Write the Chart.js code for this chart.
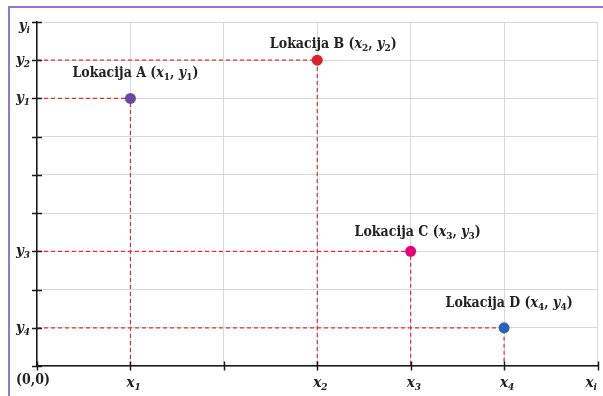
<!DOCTYPE html>
<html><head><meta charset="utf-8">
<script src="https://cdn.jsdelivr.net/npm/chart.js@4/dist/chart.umd.min.js"></script>
<style>html,body{margin:0;padding:0;background:#fff}#wrap{width:603px;height:396px;position:relative}</style>
</head><body><div id="wrap"><canvas id="c" width="603" height="396"></canvas></div>
<script>
// ---- data ----
const xTickLabels = ['(0,0)', 'x_1', '', 'x_2', 'x_3', 'x_4', 'x_i'];
const yTickLabels = ['', 'y_4', '', 'y_3', '', '', '', 'y_1', 'y_2', 'y_i'];
const locationNames = ['Lokacija A', 'Lokacija B', 'Lokacija C', 'Lokacija D'];
const locationX = [1, 3, 4, 5];
const locationY = [7, 8, 3, 1];
const locationXLabels = ['x_1', 'x_2', 'x_3', 'x_4'];
const locationYLabels = ['y_1', 'y_2', 'y_3', 'y_4'];

// ---- style ----
const locationColors = ['#6b47a4', '#d9222b', '#e5007d', '#2b63b8'];
const labelOffsets = [[5, -21], [16, -12], [7, -15], [5, -21]];
const SERIF = '"DejaVu Serif Condensed", "DejaVu Serif", serif';
const TEXT = '#222222';
const GUIDE = '#d8323c';

function parseSub(s) { const i = s.indexOf('_'); return i < 0 ? [s, ''] : [s.slice(0, i), s.slice(i + 1)]; }
function drawRich(ctx, segs, x, y, align) {
  let w = 0;
  segs.forEach(s => { ctx.font = s.font; s.w = ctx.measureText(s.text).width; w += s.w + (s.kern || 0); });
  let cx = align === 'center' ? x - w / 2 : align === 'right' ? x - w : x;
  ctx.textAlign = 'left'; ctx.textBaseline = 'alphabetic';
  segs.forEach(s => { ctx.font = s.font; ctx.fillText(s.text, cx, y + (s.dy || 0)); cx += s.w + (s.kern || 0); });
  return w;
}
const F_UP = 'bold 14px ' + SERIF;
const F_IT = 'italic bold 14px ' + SERIF;
const F_SUB = 'bold 10px ' + SERIF;
const F_TIT = 'italic bold 15px ' + SERIF;
const F_TSUB = 'italic bold 10px ' + SERIF;

const guideSets = locationX.map((x, i) => ({
  type: 'scatter', showLine: true, order: 2,
  data: [{x: 0, y: locationY[i]}, {x: x, y: locationY[i]}, {x: x, y: 0}],
  borderColor: GUIDE, borderWidth: 1.2, borderDash: [4, 3], pointRadius: 0, fill: false
}));
const pointSet = {
  type: 'scatter', order: 1,
  data: locationX.map((x, i) => ({x: x, y: locationY[i]})),
  pointRadius: 5.5, pointHoverRadius: 5.5, pointBorderWidth: 0,
  backgroundColor: locationColors, pointBackgroundColor: locationColors
};

const decor = {
  id: 'decor',
  beforeDraw(chart) {
    const ctx = chart.ctx;
    ctx.save();
    ctx.fillStyle = '#fff'; ctx.fillRect(0, 0, chart.width, chart.height);
    ctx.strokeStyle = '#9478c9'; ctx.lineWidth = 2;
    ctx.beginPath(); ctx.moveTo(9, chart.height); ctx.lineTo(9, 7); ctx.lineTo(chart.width, 7); ctx.stroke();
    ctx.restore();
  },
  afterDraw(chart) {
    const ctx = chart.ctx, xs = chart.scales.x, ys = chart.scales.y, a = chart.chartArea;
    ctx.save();
    ctx.strokeStyle = '#1a1a1a'; ctx.lineWidth = 1.5;
    xTickLabels.forEach((_, v) => { const px = Math.round(xs.getPixelForValue(v)) + 0.5; ctx.beginPath(); ctx.moveTo(px, a.bottom - 4.5); ctx.lineTo(px, a.bottom + 4.5); ctx.stroke(); });
    yTickLabels.forEach((_, v) => { const py = Math.round(ys.getPixelForValue(v)) + 0.5; ctx.beginPath(); ctx.moveTo(a.left - 5, py); ctx.lineTo(a.left + 5, py); ctx.stroke(); });
    ctx.fillStyle = TEXT;
    xTickLabels.forEach((lab, v) => {
      if (!lab) return;
      const px = xs.getPixelForValue(v);
      if (lab.indexOf('_') < 0) { drawRich(ctx, [{text: lab, font: 'bold 14px ' + SERIF}], Math.max(px - 4, 32), a.bottom + 18, 'center'); return; }
      const [m, s] = parseSub(lab);
      ctx.font = F_TIT; const mw = ctx.measureText(m).width; ctx.font = F_TSUB; const sw = ctx.measureText(s).width;
      let left = px - mw / 2;
      if (left + mw + sw > chart.width - 6) left = chart.width - 6 - mw - sw;
      drawRich(ctx, [{text: m, font: F_TIT}, {text: s, font: F_TSUB, dy: 3}], left, a.bottom + 21, 'left');
    });
    yTickLabels.forEach((lab, v) => {
      if (!lab) return;
      const py = ys.getPixelForValue(v);
      const [m, s] = parseSub(lab);
      drawRich(ctx, [{text: m, font: F_TIT}, {text: s, font: F_TSUB, dy: 3}], a.left - 7, Math.max(py + 4, 30), 'right');
    });
    locationNames.forEach((name, i) => {
      const px = xs.getPixelForValue(locationX[i]), py = ys.getPixelForValue(locationY[i]);
      const [xm, xsb] = parseSub(locationXLabels[i]), [ym, ysb] = parseSub(locationYLabels[i]);
      drawRich(ctx, [
        {text: name + ' (', font: F_UP},
        {text: xm, font: F_IT}, {text: xsb, font: F_SUB, dy: 3},
        {text: ', ', font: F_UP},
        {text: ym, font: F_IT}, {text: ysb, font: F_SUB, dy: 3},
        {text: ')', font: F_UP}
      ], px + labelOffsets[i][0], py + labelOffsets[i][1], 'center');
    });
    ctx.restore();
  }
};

new Chart(document.getElementById('c'), {
  type: 'scatter',
  data: {datasets: [pointSet, ...guideSets]},
  options: {
    responsive: false, animation: false, events: [],
    layout: {padding: {left: 37, top: 22, right: 5, bottom: 30}},
    plugins: {legend: {display: false}, tooltip: {enabled: false}},
    scales: {
      x: {type: 'linear', min: 0, max: xTickLabels.length - 1,
          ticks: {stepSize: 1, display: false},
          grid: {color: '#d8d8d8', lineWidth: 1, drawTicks: false},
          border: {color: '#1a1a1a', width: 1.5}},
      y: {type: 'linear', min: 0, max: yTickLabels.length - 1,
          ticks: {stepSize: 1, display: false},
          grid: {color: '#d8d8d8', lineWidth: 1, drawTicks: false},
          border: {color: '#1a1a1a', width: 1.5}}
    }
  },
  plugins: [decor]
});
</script></body></html>
